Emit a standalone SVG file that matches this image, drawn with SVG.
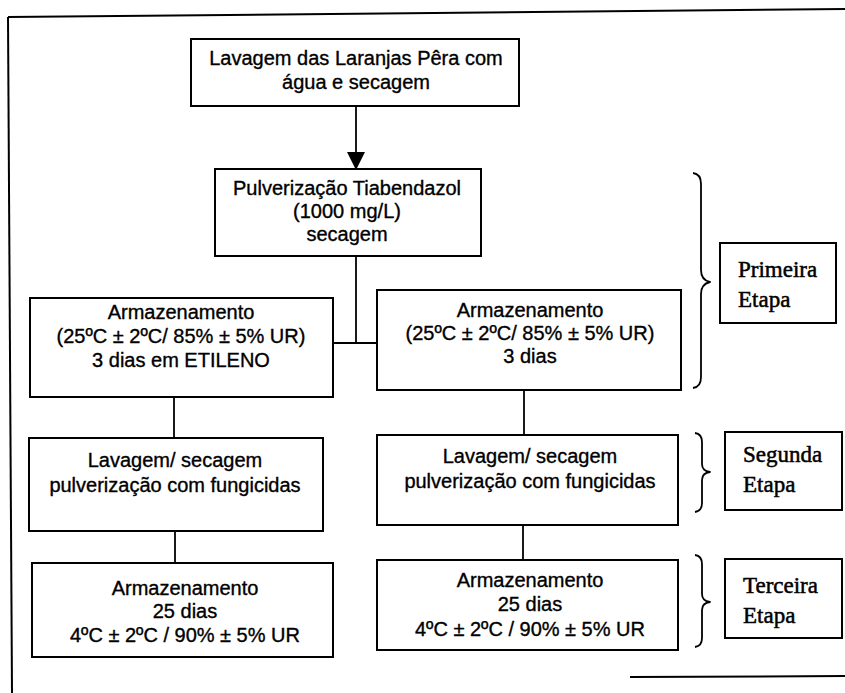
<svg xmlns="http://www.w3.org/2000/svg" width="845" height="693" viewBox="0 0 845 693">
<defs>
<style>
.box{fill:#fff;stroke:#000;stroke-width:2}
.t{font-family:"Liberation Sans",Arial,sans-serif;font-size:20px;fill:#000;stroke:#000;stroke-width:0.35;text-anchor:middle}
.s{font-family:"Liberation Serif","Times New Roman",serif;font-size:23px;fill:#000;stroke:#000;stroke-width:0.5}
.c{fill:none;stroke:#000;stroke-width:1.8}
.br{fill:none;stroke:#000;stroke-width:1.8;stroke-linejoin:round}
</style>
</defs>
<rect width="845" height="693" fill="#fff"/>
<g id="frame" fill="none" stroke="#000" stroke-width="2">
<line x1="8" y1="17" x2="845" y2="9"/>
<line x1="8" y1="17" x2="12" y2="693"/>
<line x1="630" y1="677" x2="845" y2="676"/>
</g>
<g id="connectors">
<line class="c" x1="356" y1="106" x2="356" y2="152"/>
<polygon points="347,152 365,152 356,170" fill="#000"/>
<polyline class="c" points="356,256 356,343"/>
<line class="c" x1="333" y1="343" x2="377" y2="343"/>
<line class="c" x1="174" y1="397" x2="174" y2="438"/>
<line class="c" x1="175" y1="531" x2="175" y2="563"/>
<line class="c" x1="524" y1="390" x2="524" y2="435"/>
<line class="c" x1="523" y1="525" x2="523" y2="560"/>
</g>
<g id="n1">
<rect class="box" x="191" y="39" width="328" height="67"/>
<text class="t" x="356" y="65">Lavagem das Laranjas Pêra com</text>
<text class="t" x="356" y="89">água e secagem</text>
</g>
<g id="n2">
<rect class="box" x="215" y="169" width="266" height="87"/>
<text class="t" x="347" y="195">Pulverização Tiabendazol</text>
<text class="t" x="347" y="218">(1000 mg/L)</text>
<text class="t" x="347" y="241">secagem</text>
</g>
<g id="n3">
<rect class="box" x="30" y="298" width="303" height="99"/>
<text class="t" x="181" y="319">Armazenamento</text>
<text class="t" x="181" y="343">(25ºC ± 2ºC/ 85% ± 5% UR)</text>
<text class="t" x="181" y="367">3 dias em ETILENO</text>
</g>
<g id="n4">
<rect class="box" x="377" y="290" width="304" height="100"/>
<text class="t" x="530" y="317">Armazenamento</text>
<text class="t" x="530" y="340">(25ºC ± 2ºC/ 85% ± 5% UR)</text>
<text class="t" x="530" y="363">3 dias</text>
</g>
<g id="n5">
<rect class="box" x="29" y="438" width="294" height="93"/>
<text class="t" x="175" y="467">Lavagem/ secagem</text>
<text class="t" x="175" y="492">pulverização com fungicidas</text>
</g>
<g id="n6">
<rect class="box" x="377" y="435" width="301" height="90"/>
<text class="t" x="530" y="463">Lavagem/ secagem</text>
<text class="t" x="530" y="488">pulverização com fungicidas</text>
</g>
<g id="n7">
<rect class="box" x="32" y="563" width="301" height="94"/>
<text class="t" x="185" y="595">Armazenamento</text>
<text class="t" x="185" y="618">25 dias</text>
<text class="t" x="185" y="642">4ºC ± 2ºC / 90% ± 5% UR</text>
</g>
<g id="n8">
<rect class="box" x="377" y="560" width="301" height="90"/>
<text class="t" x="530" y="587">Armazenamento</text>
<text class="t" x="530" y="611">25 dias</text>
<text class="t" x="530" y="636">4ºC ± 2ºC / 90% ± 5% UR</text>
</g>
<g id="brace1">
<path class="br" d="M693,173 Q701,174 701,184 L701,270 Q701,280 710,282 Q701,284 701,294 L701,377 Q701,387 693,388"/>
</g>
<g id="brace2">
<path class="br" d="M695,433 Q702,434 702,442 L702,464 Q702,471 710,472 Q702,473 702,480 L702,503 Q702,511 695,512"/>
</g>
<g id="brace3">
<path class="br" d="M695,555 Q702,556 702,564 L702,594 Q702,601 710,602 Q702,603 702,610 L702,638 Q702,646 695,647"/>
</g>
<g id="etapa1">
<rect class="box" x="720" y="243" width="116" height="80"/>
<text class="s" x="738" y="277">Primeira</text>
<text class="s" x="738" y="307">Etapa</text>
</g>
<g id="etapa2">
<rect class="box" x="725" y="432" width="117" height="78"/>
<text class="s" x="743" y="462">Segunda</text>
<text class="s" x="743" y="492">Etapa</text>
</g>
<g id="etapa3">
<rect class="box" x="725" y="559" width="117" height="79"/>
<text class="s" x="743" y="593">Terceira</text>
<text class="s" x="743" y="623">Etapa</text>
</g>
</svg>
